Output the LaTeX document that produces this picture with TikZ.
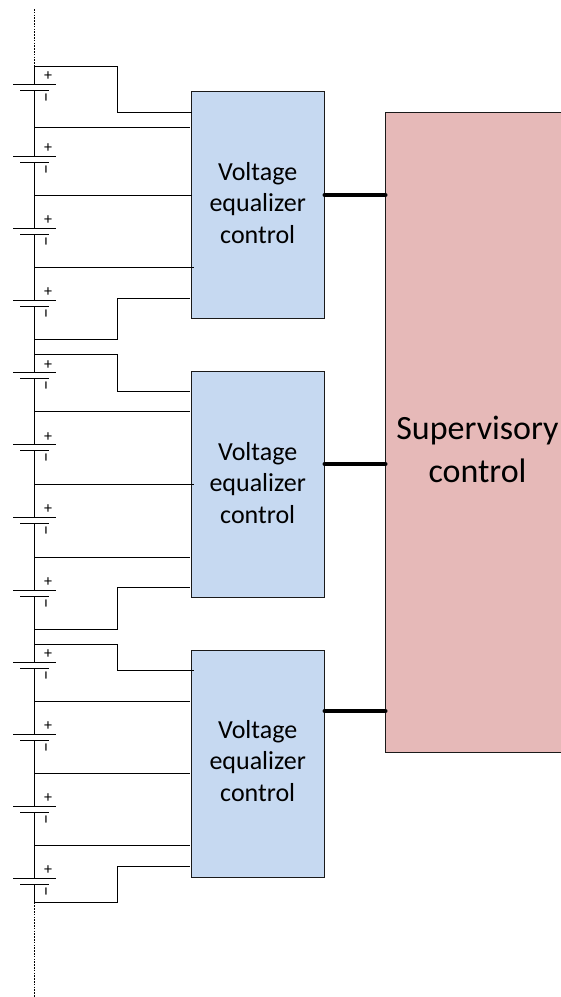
\documentclass[tikz,border=0pt]{standalone}
\usepackage{fontspec}
\setmainfont{Carlito}
\definecolor{eqblue}{HTML}{C6D9F1}
\definecolor{suppink}{HTML}{E6B9B8}
\definecolor{edge}{HTML}{1A1A1A}
\tikzset{
  wire/.style={draw=black,line width=0.95pt},
  railend/.style={draw=black,line width=0.8pt,dash pattern=on 1.6pt off 1.2pt},
  plate/.style={draw=black,line width=1pt},
  bus/.style={draw=black,line width=3.6pt,line cap=round},
  eqbox/.style={draw=edge,fill=eqblue,line width=0.9pt,minimum width=132.7pt,inner sep=0pt,outer sep=0pt},
  supbox/.style={draw=edge,fill=suppink,line width=0.9pt,minimum width=182.3pt,inner sep=0pt,outer sep=0pt},
  eqtext/.style={inner sep=0pt,align=center,text=black,font=\fontsize{26}{31.2}\selectfont},
  suptext/.style={inner sep=0pt,align=center,text=black,font=\fontsize{34}{43}\selectfont},
  polplus/.style={inner sep=0pt,font=\fontsize{16}{16}\selectfont},
  polminus/.style={inner sep=0pt,rotate=90,font=\fontsize{20}{20}\selectfont},
}
\begin{document}
\begin{tikzpicture}[x=1pt,y=-1pt]
\clip (0,0) rectangle (561,997);
\fill[white] (0,0) rectangle (561,997);
% blocks
\node[supbox,minimum height=640.4pt] (sup) at (476.85,432.5) {};
\node[eqbox,minimum height=227pt] (eq1) at (258,205.2) {};
\node[eqbox,minimum height=226pt] (eq2) at (258,484.3) {};
\node[eqbox,minimum height=227.3pt] (eq3) at (258,763.65) {};
% wires (rail levels)
\coordinate (railtop) at (34,9);
\coordinate (railbot) at (34,997);
% batteries: index / long plate y
\foreach \i/\y in {1/84,2/156,3/228,4/300,5/372.3,6/444.3,7/517,8/590,9/662,10/734,11/806,12/878}{
  \coordinate (bat\i p) at (34,\y);
  \coordinate (bat\i n) at (34,\y+6.5);
  \draw[plate] (13,\y) -- (55.5,\y);
  \draw[plate] (20,\y+6.5) -- (49,\y+6.5);
  \node[polplus] (p\i) at (48,\y-7.5) {+};
  \node[polminus] (m\i) at (48.5,\y+13.5) {–};
}
% rail
\coordinate (t0) at (34,66);
\coordinate (t13) at (34,902.5);
\draw[railend] (railtop) -- (t0);
\draw[railend] (t13) -- (railbot);
\draw[wire] (t0) -- (bat1p);
\foreach \i/\j in {1/2,2/3,3/4,4/5,5/6,6/7,7/8,8/9,9/10,10/11,11/12}{
  \draw[wire] (bat\i n) -- (bat\j p);
}
\draw[wire] (bat12n) -- (t13);
% equalizer taps
\foreach \ya/\yb/\xb/\yc/\xc/\yd/\xd/\ye/\xe/\yf/\yg in {
  66/112/192/127/190/195/192/267/194/339.5/298,
  354.7/391/190/411.7/190/484/194/557/190/629.3/587.7,
  644.7/670.7/194/701.3/190/773.3/190/845.7/190/902.3/866.3}{
  \draw[wire] (34,\ya) -| (117,\yb) -- (\xb,\yb);
  \draw[wire] (34,\yc) -- (\xc,\yc);
  \draw[wire] (34,\yd) -- (\xd,\yd);
  \draw[wire] (34,\ye) -- (\xe,\ye);
  \draw[wire] (34,\yf) -| (117,\yg) -- (190,\yg);
}
% buses
\coordinate (lv1) at (0,195);
\coordinate (lv2) at (0,464);
\coordinate (lv3) at (0,711);
\draw[bus] (eq1.east |- lv1) -- (sup.west |- lv1);
\draw[bus] (eq2.east |- lv2) -- (sup.west |- lv2);
\draw[bus] (eq3.east |- lv3) -- (sup.west |- lv3);
% labels
\node[eqtext] (l1) at (257.7,203) {Voltage\\equalizer\\control};
\node[eqtext] (l2) at (257.7,483) {Voltage\\equalizer\\control};
\node[eqtext] (l3) at (257.7,761) {Voltage\\equalizer\\control};
\node[suptext] (l4) at (477.5,449) {Supervisory\\control};
\end{tikzpicture}
\end{document}
